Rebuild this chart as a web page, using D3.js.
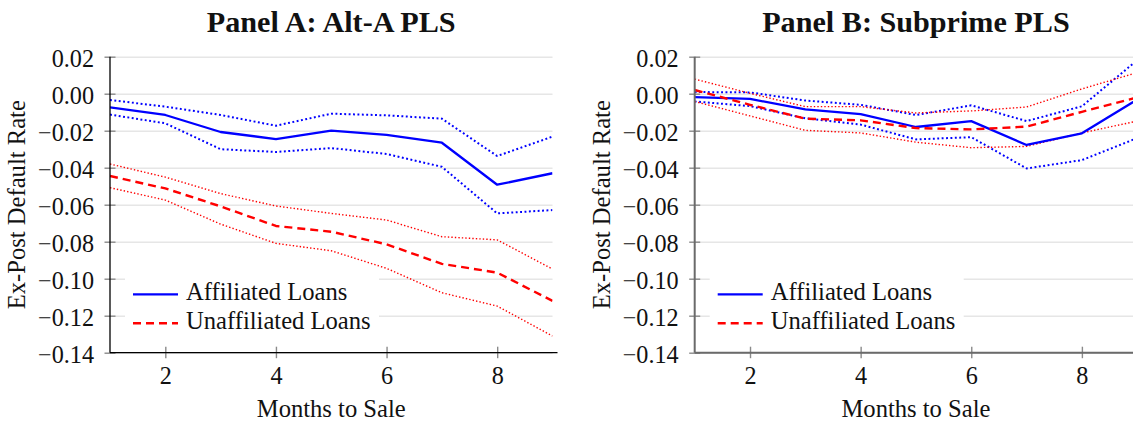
<!DOCTYPE html>
<html>
<head>
<meta charset="utf-8">
<script src="https://cdn.jsdelivr.net/npm/d3@7"></script>
<style>
  html, body { margin: 0; padding: 0; background: #fff; }
  svg { display: block; }
  svg text { font-family: "Liberation Serif", "DejaVu Serif", "Noto Serif", serif; fill: #111; }
</style>
</head>
<body>
<svg id="chart" width="1133" height="422"></svg>
<script>
// ---------- data ----------
const months = [1, 2, 3, 4, 5, 6, 7, 8, 9];
const xTicks = [2, 4, 6, 8];
const yTicks = [0.02, 0.00, -0.02, -0.04, -0.06, -0.08, -0.10, -0.12, -0.14];

const panelATitle = "Panel A: Alt-A PLS";
const panelBTitle = "Panel B: Subprime PLS";
const xLabel = "Months to Sale";
const yLabel = "Ex-Post Default Rate";
const legendLabels = ["Affiliated Loans", "Unaffiliated Loans"];

// Panel A: Alt-A PLS
const altAffil     = [-0.0074, -0.0115, -0.0207, -0.0245, -0.0200, -0.0223, -0.0265, -0.0492, -0.0430];
const altAffilHi   = [-0.0034, -0.0070, -0.0115, -0.0173, -0.0108, -0.0117, -0.0135, -0.0337, -0.0232];
const altAffilLo   = [-0.0113, -0.0160, -0.0300, -0.0315, -0.0294, -0.0326, -0.0395, -0.0647, -0.0629];
const altUnaffil   = [-0.0445, -0.0512, -0.0609, -0.0715, -0.0746, -0.0814, -0.0920, -0.0967, -0.1120];
const altUnaffilHi = [-0.0380, -0.0451, -0.0540, -0.0607, -0.0647, -0.0683, -0.0773, -0.0790, -0.0948];
const altUnaffilLo = [-0.0508, -0.0575, -0.0705, -0.0809, -0.0849, -0.0944, -0.1076, -0.1148, -0.1310];

// Panel B: Subprime PLS
const subAffil     = [-0.0018, -0.0028, -0.0085, -0.0110, -0.0180, -0.0148, -0.0277, -0.0214, -0.0032];
const subAffilHi   = [ 0.0009,  0.0007, -0.0037, -0.0060, -0.0115, -0.0063, -0.0148, -0.0068,  0.0181];
const subAffilLo   = [-0.0042, -0.0067, -0.0133, -0.0167, -0.0247, -0.0235, -0.0404, -0.0359, -0.0240];
const subUnaffil   = [ 0.0020, -0.0060, -0.0135, -0.0144, -0.0186, -0.0193, -0.0178, -0.0098, -0.0020];
const subUnaffilHi = [ 0.0079,  0.0002, -0.0070, -0.0070, -0.0104, -0.0093, -0.0072,  0.0026,  0.0114];
const subUnaffilLo = [-0.0042, -0.0120, -0.0198, -0.0212, -0.0262, -0.0292, -0.0285, -0.0212, -0.0148];

// ---------- setup ----------
const svg = d3.select("#chart");
const TICK_FONT = 22;

function fitSize(str, target, weight) {
  const t = svg.append("text").attr("font-size", 100).attr("font-weight", weight).text(str);
  const w = t.node().getComputedTextLength();
  t.remove();
  return 100 * target / w;
}
const regSize = fitSize(xLabel, 149, "normal");
const boldSize = fitSize(panelATitle, 249, "bold");
const tickSize = fitSize("\u22120.14", 56, "normal");

const plotTop = 56.7, plotBottom = 352.7, plotW = 442.5;

const styles = {
  affil:   { stroke: "#0000ff", width: 2.3, dash: null },
  affilCI: { stroke: "#0000ff", width: 2.0, dash: "1.9,2.5" },
  un:      { stroke: "#ff0000", width: 2.4, dash: "8,5" },
  unCI:    { stroke: "#ff0000", width: 1.4, dash: "1.4,2.1" }
};

function panel(cfg) {
  const left = cfg.left;
  const x = d3.scaleLinear().domain([1, 9]).range([left, left + plotW]);
  const y = d3.scaleLinear().domain([-0.14, 0.02]).range([plotBottom, plotTop]);
  const g = svg.append("g");

  // grid lines
  g.append("g")
    .attr("transform", `translate(${left},0)`)
    .call(d3.axisLeft(y).tickValues(yTicks).tickSize(-plotW).tickFormat(""))
    .call(s => s.select(".domain").remove())
    .call(s => s.selectAll("line").attr("stroke", "#e6e6e6").attr("stroke-width", 1.5));

  // clip
  const cid = "clip" + cfg.id;
  svg.append("defs").append("clipPath").attr("id", cid)
    .append("rect").attr("x", left).attr("y", plotTop - 2).attr("width", plotW).attr("height", plotBottom - plotTop + 4);

  const line = d3.line().x((d, i) => x(months[i])).y(d => y(d));
  const lg = g.append("g").attr("clip-path", `url(#${cid})`);
  cfg.series.forEach(s => {
    const st = styles[s.style];
    lg.append("path").datum(s.values)
      .attr("d", line)
      .attr("fill", "none")
      .attr("stroke", st.stroke)
      .attr("stroke-width", st.width)
      .attr("stroke-dasharray", st.dash)
      .attr("stroke-linejoin", "round");
  });

  // y axis
  const ya = g.append("g")
    .attr("transform", `translate(${left},0)`)
    .call(d3.axisLeft(y).tickValues(yTicks).tickFormat(d3.format(".2f")).tickSize(5).tickPadding(11));
  ya.attr("font-family", null).attr("font-size", null);
  ya.select(".domain").remove();
  ya.selectAll(".tick line").attr("x1", -5.5).attr("x2", 5.5).attr("stroke", cfg.tickColor).attr("stroke-width", 1.4);
  ya.selectAll(".tick text").attr("x", -16).attr("dy", "0.42em")
    .attr("font-size", tickSize).attr("fill", "#111");

  // x axis
  const xa = g.append("g")
    .attr("transform", `translate(0,${plotBottom})`)
    .call(d3.axisBottom(x).tickValues(xTicks).tickFormat(d3.format("d")).tickSize(5));
  xa.attr("font-family", null).attr("font-size", null);
  xa.select(".domain").remove();
  xa.selectAll(".tick line").attr("y1", -6).attr("y2", 5.5).attr("stroke", cfg.tickColor).attr("stroke-width", 1.4);
  xa.selectAll(".tick text").attr("y", 31).attr("dy", 0)
    .attr("font-size", tickSize).attr("fill", "#111");

  // axis lines
  g.append("line").attr("x1", left).attr("x2", left).attr("y1", plotTop).attr("y2", plotBottom)
    .attr("stroke", cfg.axisColor).attr("stroke-width", cfg.axisWidth);
  g.append("line").attr("x1", left).attr("x2", left + plotW + 5).attr("y1", plotBottom).attr("y2", plotBottom)
    .attr("stroke", cfg.axisColor).attr("stroke-width", cfg.axisWidth);

  // legend
  g.append("rect").attr("x", left + 15).attr("y", 277).attr("width", 254).attr("height", 63).attr("fill", "#fff");
  const legStyles = ["affil", "un"];
  const legY = [294.3, 323.3];
  legendLabels.forEach((lab, i) => {
    const st = styles[legStyles[i]];
    g.append("line").attr("x1", left + 23).attr("x2", left + 68).attr("y1", legY[i]).attr("y2", legY[i])
      .attr("stroke", st.stroke).attr("stroke-width", st.width).attr("stroke-dasharray", st.dash);
    g.append("text").attr("x", left + 76).attr("y", legY[i] + 5.2).attr("font-size", regSize).text(lab);
  });

  // titles & labels
  const cx = left + plotW / 2;
  g.append("text").attr("x", cx).attr("y", 31.5).attr("text-anchor", "middle")
    .attr("font-size", boldSize).attr("font-weight", "bold").text(cfg.title);
  g.append("text").attr("x", cx).attr("y", 417).attr("text-anchor", "middle")
    .attr("font-size", regSize).text(xLabel);
  g.append("text").attr("transform", `translate(${left - 85},${(plotTop + plotBottom) / 2}) rotate(-90)`)
    .attr("text-anchor", "middle").attr("font-size", regSize).text(yLabel);
}

panel({
  id: "A", left: 110, title: panelATitle, axisColor: "#000", axisWidth: 1.3, tickColor: "#8a8a8a",
  series: [
    { values: altAffilHi, style: "affilCI" },
    { values: altAffilLo, style: "affilCI" },
    { values: altUnaffilHi, style: "unCI" },
    { values: altUnaffilLo, style: "unCI" },
    { values: altAffil, style: "affil" },
    { values: altUnaffil, style: "un" }
  ]
});

panel({
  id: "B", left: 694.7, title: panelBTitle, axisColor: "#6a6a6a", axisWidth: 2, tickColor: "#8a8a8a",
  series: [
    { values: subAffilHi, style: "affilCI" },
    { values: subAffilLo, style: "affilCI" },
    { values: subUnaffilHi, style: "unCI" },
    { values: subUnaffilLo, style: "unCI" },
    { values: subAffil, style: "affil" },
    { values: subUnaffil, style: "un" }
  ]
});
</script>
</body>
</html>
